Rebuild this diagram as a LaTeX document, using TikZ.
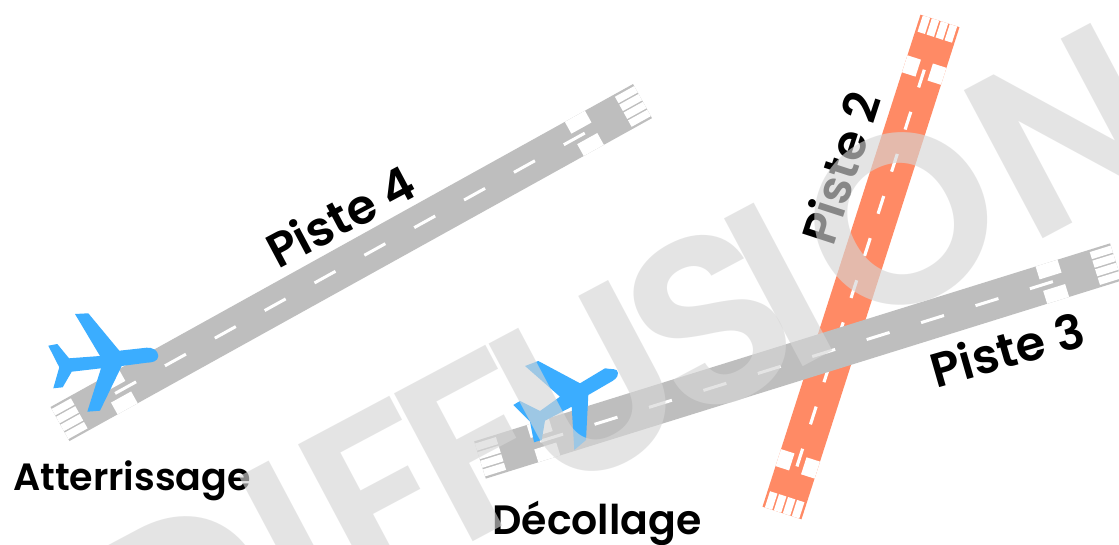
\documentclass[tikz,border=0pt]{standalone}
\usepackage{fontspec}
\usepackage{xcolor}
\setmainfont{Poppins SemiBold}
\definecolor{runwaygray}{HTML}{BEBEBE}
\definecolor{runwayorange}{HTML}{FF8A65}
\definecolor{planeblue}{HTML}{3BADFF}
\definecolor{markgray}{HTML}{D6D6D6}
\tikzset{
    piste/.style={font=\fontsize{48}{48}\selectfont},
    phase/.style={font=\fontsize{38}{38}\selectfont},
    plane/.style={fill=planeblue, draw=none}
}
% #1 threshold centre, #2 angle, #3 scaling, #4 colour
\newcommand{\runway}[4]{
    \begin{scope}[shift={#1}, rotate=#2, #3]
        \fill[#4] (0,-19.5) rectangle (666,19.5);
        \foreach \s in {0,644} {
            \foreach \y in {-18,-9,0,9} {
                \fill[white] (\s,\y+.8) rectangle (\s+22,\y+8.2);
            }
        }
        \foreach \s in {55,588} {
            \fill[white] (\s,-19.5) rectangle (\s+23,-6);
            \fill[white] (\s,6) rectangle (\s+23,19.5);
        }
        \foreach \i in {0,...,9} {
            \fill[white] (63+57*\i,-1.5) rectangle (87+57*\i,1.5);
        }
    \end{scope}
}
\begin{document}
\begin{tikzpicture}[x=1pt, y=-1pt]
    \useasboundingbox (0,0) rectangle (1119,545);
    \clip (0,0) rectangle (1119,545);
    \fill[white] (0,0) rectangle (1119,545);
    % Runways
    \runway{(60,424)}{29}{xscale=1}{runwaygray}
    \runway{(782,513)}{72.2}{xscale=0.776,yscale=1.05}{runwayorange}
    \runway{(480,460)}{17.3}{xscale=1}{runwaygray}
    % Planes
    \fill[plane] (69,358.3) -- (100,356) -- (75,314) -- (88.3,313.3) -- (119.3,350.7) -- (146.7,347.7)
        to[out=5,in=90] (158.3,356) to[out=270,in=0] (146.7,362.7) -- (121.7,366) -- (100,410.7) -- (87.3,411.7)
        -- (101,368.3) -- (71.7,371.7) -- (62.7,387.3) -- (53.3,388.3) -- (59.3,367.3) -- (48.3,345.7) -- (57.3,344) -- cycle;
    \fill[plane] (525,366) -- (538.3,361) -- (580,383.3) -- (605,368.3)
        to[out=-15,in=90] (618,373) to[out=270,in=30] (609,383) -- (588.3,395) -- (586,440) -- (574.3,450)
        -- (571.7,406.7) -- (545,420.7) -- (541.7,440) -- (534,442.3) -- (530,421.7) -- (513.3,405) -- (520,401)
        -- (540,411) -- (560,396.7) -- cycle;
    % Labels
    \node[piste, rotate=28] (piste4) at (340,216) {Piste 4};
    \node[piste, rotate=72] (piste2) at (840,168) {Piste 2};
    \node[piste, rotate=16] (piste3) at (1007,349) {Piste 3};
    \node[phase] (atterrissage) at (132,481) {Atterrissage};
    \node[phase, font=\fontsize{41}{41}\selectfont] (decollage) at (597,523) {Décollage};
    % Watermark
    \node[font=\fontsize{240}{240}\selectfont, text=markgray, opacity=0.635, rotate=28, anchor=base west, inner sep=0pt] (mark) at (151,713)
        {DIF\kern-18ptF\kern-20ptU\kern-17ptS\kern-30ptI\kern12ptO\kern5ptN};
\end{tikzpicture}
\end{document}
